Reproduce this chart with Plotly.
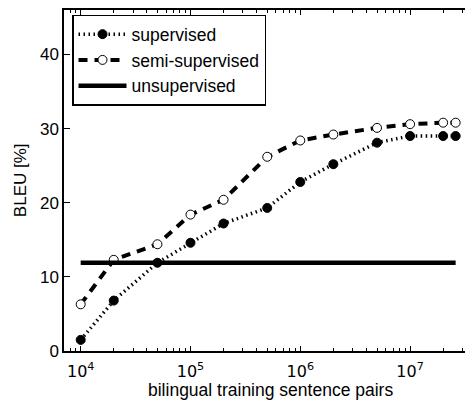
import plotly.graph_objects as go
import math

# data
pairs = [1e4, 2e4, 5e4, 1e5, 2e5, 5e5, 1e6, 2e6, 5e6, 1e7, 2e7, 2.6e7]
supervised = [1.5, 6.8, 11.9, 14.6, 17.2, 19.3, 22.8, 25.2, 28.1, 29.0, 29.0, 29.0]
semi_supervised = [6.3, 12.3, 14.4, 18.4, 20.4, 26.2, 28.4, 29.2, 30.1, 30.6, 30.8, 30.8]
unsup_x = [1e4, 2.6e7]
unsupervised = [11.9, 11.9]

major_vals = [1e4, 1e5, 1e6, 1e7]
major_text = ["10<sup>4</sup>", "10<sup>5</sup>", "10<sup>6</sup>", "10<sup>7</sup>"]
minor_vals = [m * 10 ** e for e in range(3, 8) for m in range(2, 10) if 7000 <= m * 10 ** e <= 4.1e7]
y_ticks = [0, 10, 20, 30, 40]

FONT = "Liberation Sans, Arial, sans-serif"

fig = go.Figure()
fig.add_trace(go.Scatter(
    x=pairs, y=supervised, name="supervised", mode="lines+markers",
    line=dict(color="black", width=3.5, dash="1.5px,3.5px"),
    marker=dict(symbol="circle", size=9, color="black", line=dict(color="black", width=1)),
))
fig.add_trace(go.Scatter(
    x=pairs, y=semi_supervised, name="semi-supervised", mode="lines+markers",
    line=dict(color="black", width=4, dash="9px,7px"),
    marker=dict(symbol="circle", size=9, color="white", line=dict(color="black", width=1)),
))
fig.add_trace(go.Scatter(
    x=unsup_x, y=unsupervised, name="unsupervised", mode="lines",
    line=dict(color="black", width=4.5),
))

fig.update_layout(
    width=473, height=401,
    margin=dict(l=56, r=4, t=2, b=58, autoexpand=False),
    paper_bgcolor="white", plot_bgcolor="white",
    font=dict(family=FONT, size=17, color="black"),
    showlegend=True,
    legend=dict(
        x=0.0194, y=0.986, xanchor="left", yanchor="top",
        bgcolor="white", bordercolor="black", borderwidth=1.5,
        font=dict(family=FONT, size=17.5, color="black"),
        tracegroupgap=0, itemwidth=48,
    ),
    xaxis=dict(
        type="log", automargin=False,
        range=[3.848, 7.6095],
        showgrid=False, zeroline=False,
        showline=True, linecolor="black", linewidth=1.5, mirror="ticks",
        ticks="inside", ticklen=5, tickwidth=1, tickcolor="black",
        tickmode="array", tickvals=major_vals, ticktext=major_text,
        ticklabelstandoff=5,
        tickfont=dict(family="DejaVu Sans", size=16, color="black"),
        minor=dict(tickmode="array", tickvals=minor_vals, ticks="inside", ticklen=3, tickwidth=1, tickcolor="black"),
    ),
    yaxis=dict(
        range=[0, 46], automargin=False,
        showgrid=False, zeroline=False,
        showline=True, linecolor="black", linewidth=1.5, mirror=False,
        ticks="inside", ticklen=6, tickwidth=1, tickcolor="black",
        tickmode="array", tickvals=y_ticks,
        tickfont=dict(family=FONT, size=17, color="black"),
    ),
    annotations=[
        dict(text="bilingual training sentence pairs", xref="paper", yref="paper",
             x=0.5, y=-0.114, xanchor="center", yanchor="middle", showarrow=False,
             font=dict(family=FONT, size=17.5, color="black")),
        dict(text="BLEU [%]", xref="paper", yref="paper", textangle=-90,
             x=-0.105, y=0.5, xanchor="center", yanchor="middle", showarrow=False,
             font=dict(family=FONT, size=17, color="black")),
    ],
)

fig.write_html("out.html")
